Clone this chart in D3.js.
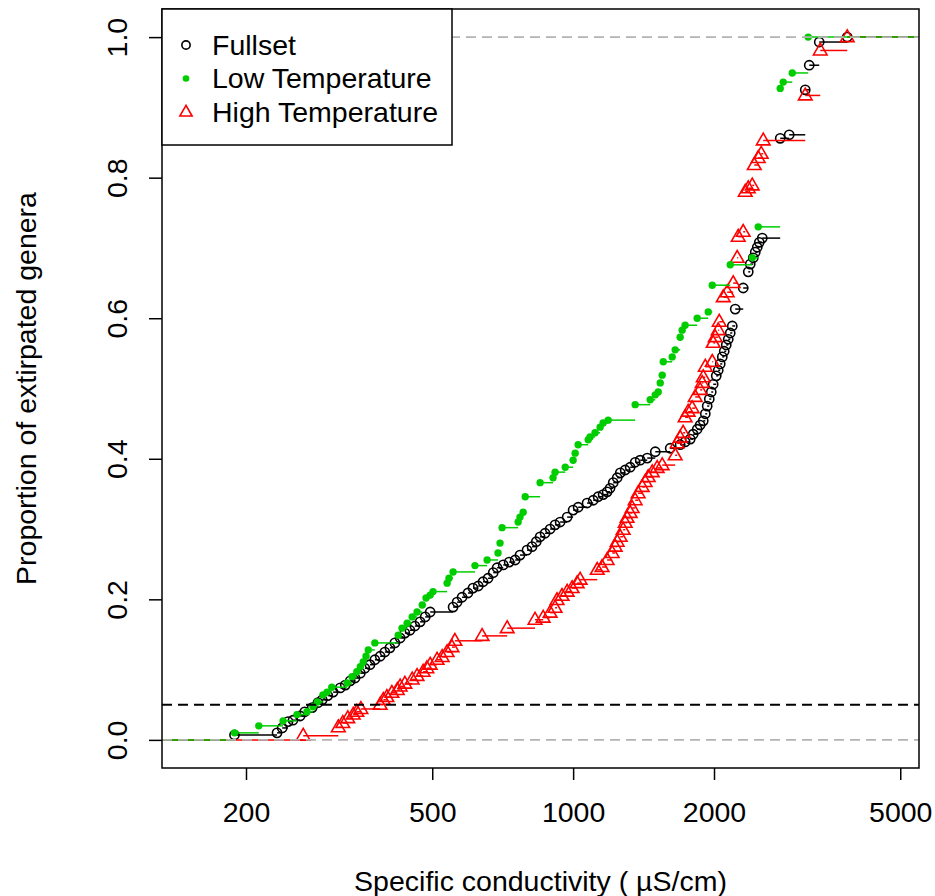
<!DOCTYPE html>
<html>
<head>
<meta charset="utf-8">
<script src="https://cdn.jsdelivr.net/npm/d3@7"></script>
<style>
  html, body { margin: 0; padding: 0; background: #fff; }
  svg text { font-family: "Liberation Sans", Arial, sans-serif; fill: #000; }
</style>
</head>
<body>
<svg id="chart" width="935" height="896"></svg>
<script>
// ---------------- data ----------------
const seriesNames = ["Fullset", "Low Temperature", "High Temperature"];

// Fullset: specific conductivity (µS/cm) and proportion of extirpated genera
const fullX = [189, 233, 239, 246, 252, 261, 267, 277, 285, 291, 299, 307, 318, 326, 334, 342, 351, 359, 368, 377,
  387, 396, 406, 416, 427, 437, 448, 459, 471, 483, 495, 554, 565, 579, 596, 611, 627, 642, 658, 675,
  688, 709, 730, 752, 770, 797, 817, 834, 850, 871, 893, 915, 938, 971, 1000, 1025, 1071, 1104, 1131, 1159,
  1182, 1199, 1218, 1242, 1261, 1292, 1324, 1357, 1391, 1440, 1498, 1612, 1693, 1735, 1779, 1805, 1841, 1868, 1897, 1916,
  1934, 1954, 1973, 1992, 2022, 2042, 2062, 2083, 2103, 2124, 2145, 2166, 2188, 2220, 2309, 2367, 2390, 2426, 2450, 2474,
  2499, 2536, 2770, 2895, 3133, 3195, 3356, 3852];
const fullY = [0.007, 0.010, 0.017, 0.026, 0.028, 0.034, 0.040, 0.046, 0.053, 0.057, 0.063, 0.068, 0.074, 0.078, 0.084, 0.088, 0.095, 0.102, 0.107, 0.114,
  0.119, 0.125, 0.131, 0.138, 0.145, 0.152, 0.156, 0.162, 0.168, 0.175, 0.182, 0.189, 0.196, 0.203, 0.209, 0.216, 0.219, 0.225, 0.230, 0.238,
  0.245, 0.249, 0.253, 0.256, 0.263, 0.270, 0.275, 0.282, 0.289, 0.294, 0.300, 0.306, 0.310, 0.317, 0.327, 0.331, 0.337, 0.341, 0.346, 0.349,
  0.353, 0.358, 0.366, 0.373, 0.380, 0.384, 0.388, 0.395, 0.398, 0.401, 0.410, 0.415, 0.420, 0.424, 0.428, 0.435, 0.442, 0.448, 0.454, 0.464,
  0.475, 0.485, 0.495, 0.506, 0.518, 0.526, 0.535, 0.545, 0.553, 0.562, 0.570, 0.579, 0.589, 0.613, 0.643, 0.666, 0.677, 0.686, 0.694, 0.701,
  0.708, 0.714, 0.856, 0.861, 0.925, 0.960, 0.993, 1.000];

// Low temperature
const lowX = [189, 213, 240, 257, 270, 278, 284, 292, 298, 305, 329, 337, 345, 351, 356, 361, 365, 377, 423, 431,
  442, 453, 464, 476, 485, 495, 502, 538, 543, 554, 617, 655, 691, 698, 705, 763, 770, 782, 790, 850,
  906, 915, 962, 1000, 1010, 1025, 1077, 1087, 1114, 1142, 1159, 1188, 1357, 1461, 1498, 1520, 1535, 1550, 1558, 1628,
  1652, 1693, 1710, 1735, 1841, 1944, 1983, 2166, 2414, 2486, 2770, 2811, 2939, 3179];
const lowY = [0.010, 0.020, 0.027, 0.036, 0.040, 0.047, 0.054, 0.064, 0.068, 0.075, 0.081, 0.090, 0.097, 0.104, 0.111, 0.119, 0.128, 0.138, 0.149, 0.159,
  0.166, 0.175, 0.182, 0.192, 0.202, 0.206, 0.211, 0.223, 0.230, 0.239, 0.248, 0.256, 0.266, 0.280, 0.302, 0.310, 0.317, 0.324, 0.346, 0.366,
  0.373, 0.381, 0.388, 0.398, 0.408, 0.420, 0.427, 0.431, 0.437, 0.445, 0.451, 0.455, 0.477, 0.484, 0.491, 0.495, 0.508, 0.519, 0.538, 0.545,
  0.555, 0.573, 0.583, 0.590, 0.600, 0.609, 0.647, 0.676, 0.686, 0.730, 0.927, 0.936, 0.949, 1.000];

// High temperature
const highX = [265, 315, 322, 330, 339, 345, 352, 387, 393, 400, 410, 421, 427, 437, 453, 464, 478, 487, 495, 512,
  525, 538, 551, 559, 639, 723, 829, 863, 893, 915, 924, 947, 971, 995, 1020, 1035, 1126, 1153, 1182, 1212,
  1230, 1242, 1261, 1279, 1292, 1304, 1324, 1337, 1357, 1377, 1405, 1425, 1447, 1476, 1512, 1550, 1652, 1668, 1693, 1718,
  1735, 1761, 1796, 1823, 1868, 1887, 1897, 1916, 1983, 1992, 2012, 2042, 2052, 2093, 2134, 2198, 2242, 2253, 2309, 2332,
  2367, 2414, 2438, 2486, 2523, 2548, 3133, 3373, 3852];
const highY = [0.006, 0.018, 0.024, 0.031, 0.036, 0.040, 0.044, 0.050, 0.057, 0.061, 0.067, 0.071, 0.076, 0.080, 0.086, 0.091, 0.097, 0.102, 0.107, 0.114,
  0.118, 0.125, 0.132, 0.141, 0.148, 0.159, 0.171, 0.174, 0.181, 0.188, 0.199, 0.205, 0.211, 0.216, 0.223, 0.228, 0.242, 0.246, 0.256, 0.266,
  0.275, 0.282, 0.289, 0.299, 0.309, 0.316, 0.323, 0.330, 0.341, 0.351, 0.360, 0.367, 0.374, 0.381, 0.387, 0.391, 0.405, 0.422, 0.430, 0.437,
  0.459, 0.467, 0.472, 0.488, 0.498, 0.508, 0.516, 0.531, 0.538, 0.565, 0.573, 0.583, 0.595, 0.630, 0.637, 0.650, 0.686, 0.716, 0.723, 0.780,
  0.785, 0.789, 0.818, 0.828, 0.834, 0.853, 0.917, 0.981, 1.000];

const xTicks = [200, 500, 1000, 2000, 5000];
const yTicks = [0, 0.2, 0.4, 0.6, 0.8, 1.0];
const refLevels = [0, 1];        // grey dashed lines
const thresholdLevel = 0.05;     // black dashed line
const xLabel = "Specific conductivity ( \u00B5S/cm)";
const yLabel = "Proportion of extirpated genera";

// ---------------- layout ----------------
const L = 162, R = 919, T = 9, B = 768;
const FS = 28.5;
const svg = d3.select("#chart");

const x = d3.scaleLog().domain([132.3, 5483]).range([L, R]);
const y = d3.scaleLinear().domain([-0.04, 1.04]).range([B, T]);

const GREEN = "#00cd00", RED = "#ff0000", BLACK = "#000000", GREY = "#b3b3b3";

svg.append("defs").append("clipPath").attr("id", "plotclip")
  .append("rect").attr("x", L).attr("y", T).attr("width", R - L).attr("height", B - T);

const plot = svg.append("g").attr("clip-path", "url(#plotclip)");

const series = [
  { name: seriesNames[0], xs: fullX, ys: fullY, color: BLACK, shape: "circle" },
  { name: seriesNames[2], xs: highX, ys: highY, color: RED, shape: "triangle" },
  { name: seriesNames[1], xs: lowX, ys: lowY, color: GREEN, shape: "dot" }
];

const [dmin, dmax] = x.domain();

function drawSymbol(g, shape, color, cx, cy, scale) {
  const k = scale || 1;
  if (shape === "circle") {
    g.append("circle").attr("cx", cx).attr("cy", cy).attr("r", 4.6 * k)
      .attr("fill", "none").attr("stroke", color).attr("stroke-width", 1.6);
  } else if (shape === "dot") {
    g.append("circle").attr("cx", cx).attr("cy", cy).attr("r", 3.7 * k)
      .attr("fill", color).attr("stroke", "none");
  } else {
    const s = 6.8 * k;
    const h = s * Math.sqrt(3);
    const pts = [[cx, cy - h * 0.62], [cx - s, cy + h * 0.38], [cx + s, cy + h * 0.38]];
    g.append("polygon").attr("points", pts.map(p => p.join(",")).join(" "))
      .attr("fill", "none").attr("stroke", color).attr("stroke-width", 1.6);
  }
}

series.forEach(s => {
  const g = plot.append("g");
  // horizontal step segments (no verticals)
  const segs = [{ x0: dmin, x1: s.xs[0], v: 0 }];
  s.xs.forEach((xv, i) => {
    segs.push({ x0: xv, x1: i < s.xs.length - 1 ? s.xs[i + 1] : dmax, v: s.ys[i] });
  });
  g.selectAll("line.step").data(segs).enter().append("line")
    .attr("x1", d => x(d.x0)).attr("x2", d => x(d.x1))
    .attr("y1", d => y(d.v)).attr("y2", d => y(d.v))
    .attr("stroke", s.color).attr("stroke-width", 1.5);
  s.xs.forEach((xv, i) => drawSymbol(g, s.shape, s.color, x(xv), y(s.ys[i])));
});

// reference lines
plot.selectAll("line.ref").data(refLevels).enter().append("line")
  .attr("x1", L).attr("x2", R)
  .attr("y1", d => y(d)).attr("y2", d => y(d))
  .attr("stroke", GREY).attr("stroke-width", 1.6).attr("stroke-dasharray", "10,6");

plot.append("line")
  .attr("x1", L).attr("x2", R)
  .attr("y1", y(thresholdLevel)).attr("y2", y(thresholdLevel))
  .attr("stroke", BLACK).attr("stroke-width", 1.8).attr("stroke-dasharray", "10,6");

// axes
const xAxis = d3.axisBottom(x).tickValues(xTicks).tickFormat(d3.format("d")).tickSize(12).tickPadding(22);
const gx = svg.append("g").attr("transform", `translate(0,${B})`).call(xAxis);
gx.select(".domain").remove();
gx.selectAll(".tick line").attr("stroke", "#000").attr("stroke-width", 1.5);
gx.selectAll(".tick text").attr("font-size", FS).attr("font-family", "Liberation Sans, Arial, sans-serif");

const yAxis = d3.axisLeft(y).tickValues(yTicks).tickFormat(d3.format(".1f")).tickSize(13);
const gy = svg.append("g").attr("transform", `translate(${L},0)`).call(yAxis);
gy.select(".domain").remove();
gy.selectAll(".tick line").attr("stroke", "#000").attr("stroke-width", 1.5);
gy.selectAll(".tick text")
  .attr("font-size", FS).attr("font-family", "Liberation Sans, Arial, sans-serif")
  .attr("x", null).attr("dy", null)
  .attr("text-anchor", "middle")
  .attr("transform", "translate(-45,0) rotate(-90)")
  .attr("dy", "0.35em");

// plot box
svg.append("rect").attr("x", L).attr("y", T).attr("width", R - L).attr("height", B - T)
  .attr("fill", "none").attr("stroke", "#000").attr("stroke-width", 1.5);

// axis titles
svg.append("text").attr("x", (L + R) / 2 + 0).attr("y", 891)
  .attr("text-anchor", "middle").attr("font-size", FS).text(xLabel);
svg.append("text").attr("transform", `translate(36,${(T + B) / 2}) rotate(-90)`)
  .attr("text-anchor", "middle").attr("font-size", FS).text(yLabel);

// legend
const leg = svg.append("g");
leg.append("rect").attr("x", L).attr("y", T).attr("width", 290).attr("height", 136)
  .attr("fill", "#fff").attr("stroke", "#000").attr("stroke-width", 1.5);
const legItems = [
  { name: seriesNames[0], color: BLACK, shape: "circle" },
  { name: seriesNames[1], color: GREEN, shape: "dot" },
  { name: seriesNames[2], color: RED, shape: "triangle" }
];
legItems.forEach((it, i) => {
  const cy = 45 + i * 33.5;
  drawSymbol(leg, it.shape, it.color, 186, cy, 0.9);
  leg.append("text").attr("x", 212).attr("y", cy).attr("dy", "0.35em")
    .attr("font-size", FS).text(it.name);
});
</script>
</body>
</html>
